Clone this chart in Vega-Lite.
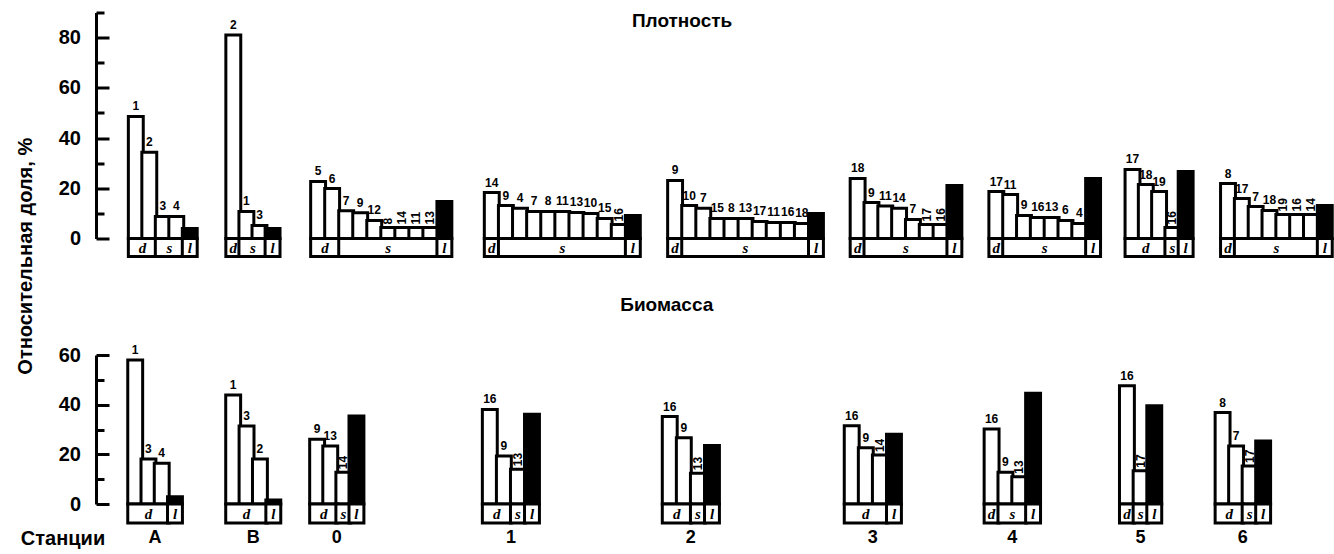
{
"$schema": "https://vega.github.io/schema/vega-lite/v6.json",
"background": "white",
"padding": {"left": 15, "top": 2.5, "right": 0, "bottom": 0},
"title": {"text": "Относительная доля, %", "orient": "left", "anchor": "middle", "frame": "bounds", "offset": -15.5, "dx": 19, "fontSize": 20, "font": "Liberation Sans", "fontWeight": "bold", "color": "black"},
"datasets": {"bars": [
{"m":"Плотность","st":"A","sp":"1","cat":"d","rank":1,"v":48.6},
{"m":"Плотность","st":"A","sp":"2","cat":"d","rank":2,"v":34.3},
{"m":"Плотность","st":"A","sp":"3","cat":"s","rank":3,"v":8.8},
{"m":"Плотность","st":"A","sp":"4","cat":"s","rank":4,"v":8.8},
{"m":"Плотность","st":"A","sp":"","cat":"l","rank":5,"v":4.0},
{"m":"Плотность","st":"B","sp":"2","cat":"d","rank":1,"v":81},
{"m":"Плотность","st":"B","sp":"1","cat":"s","rank":2,"v":10.8},
{"m":"Плотность","st":"B","sp":"3","cat":"s","rank":3,"v":5.2},
{"m":"Плотность","st":"B","sp":"","cat":"l","rank":4,"v":4.0},
{"m":"Плотность","st":"0","sp":"5","cat":"d","rank":1,"v":22.7},
{"m":"Плотность","st":"0","sp":"6","cat":"d","rank":2,"v":19.9},
{"m":"Плотность","st":"0","sp":"7","cat":"s","rank":3,"v":11.1},
{"m":"Плотность","st":"0","sp":"9","cat":"s","rank":4,"v":10.3},
{"m":"Плотность","st":"0","sp":"12","cat":"s","rank":5,"v":7.2},
{"m":"Плотность","st":"0","sp":"8","cat":"s","rank":6,"v":4.4},
{"m":"Плотность","st":"0","sp":"14","cat":"s","rank":7,"v":4.4},
{"m":"Плотность","st":"0","sp":"11","cat":"s","rank":8,"v":4.4},
{"m":"Плотность","st":"0","sp":"13","cat":"s","rank":9,"v":4.4},
{"m":"Плотность","st":"0","sp":"","cat":"l","rank":10,"v":14.7},
{"m":"Плотность","st":"1","sp":"14","cat":"d","rank":1,"v":18.3},
{"m":"Плотность","st":"1","sp":"9","cat":"s","rank":2,"v":13.1},
{"m":"Плотность","st":"1","sp":"4","cat":"s","rank":3,"v":12.0},
{"m":"Плотность","st":"1","sp":"7","cat":"s","rank":4,"v":10.8},
{"m":"Плотность","st":"1","sp":"8","cat":"s","rank":5,"v":10.8},
{"m":"Плотность","st":"1","sp":"11","cat":"s","rank":6,"v":10.8},
{"m":"Плотность","st":"1","sp":"13","cat":"s","rank":7,"v":10.4},
{"m":"Плотность","st":"1","sp":"10","cat":"s","rank":8,"v":10.0},
{"m":"Плотность","st":"1","sp":"15","cat":"s","rank":9,"v":8.0},
{"m":"Плотность","st":"1","sp":"16","cat":"s","rank":10,"v":5.6},
{"m":"Плотность","st":"1","sp":"","cat":"l","rank":11,"v":9.2},
{"m":"Плотность","st":"2","sp":"9","cat":"d","rank":1,"v":23.1},
{"m":"Плотность","st":"2","sp":"10","cat":"s","rank":2,"v":13.1},
{"m":"Плотность","st":"2","sp":"7","cat":"s","rank":3,"v":12.0},
{"m":"Плотность","st":"2","sp":"15","cat":"s","rank":4,"v":8.0},
{"m":"Плотность","st":"2","sp":"8","cat":"s","rank":5,"v":8.0},
{"m":"Плотность","st":"2","sp":"13","cat":"s","rank":6,"v":8.0},
{"m":"Плотность","st":"2","sp":"17","cat":"s","rank":7,"v":6.8},
{"m":"Плотность","st":"2","sp":"11","cat":"s","rank":8,"v":6.4},
{"m":"Плотность","st":"2","sp":"16","cat":"s","rank":9,"v":6.4},
{"m":"Плотность","st":"2","sp":"18","cat":"s","rank":10,"v":6.0},
{"m":"Плотность","st":"2","sp":"","cat":"l","rank":11,"v":10.0},
{"m":"Плотность","st":"3","sp":"18","cat":"d","rank":1,"v":23.9},
{"m":"Плотность","st":"3","sp":"9","cat":"s","rank":2,"v":14.3},
{"m":"Плотность","st":"3","sp":"11","cat":"s","rank":3,"v":12.9},
{"m":"Плотность","st":"3","sp":"14","cat":"s","rank":4,"v":12.0},
{"m":"Плотность","st":"3","sp":"7","cat":"s","rank":5,"v":7.6},
{"m":"Плотность","st":"3","sp":"17","cat":"s","rank":6,"v":5.6},
{"m":"Плотность","st":"3","sp":"16","cat":"s","rank":7,"v":5.6},
{"m":"Плотность","st":"3","sp":"","cat":"l","rank":8,"v":21.1},
{"m":"Плотность","st":"4","sp":"17","cat":"d","rank":1,"v":18.7},
{"m":"Плотность","st":"4","sp":"11","cat":"s","rank":2,"v":17.5},
{"m":"Плотность","st":"4","sp":"9","cat":"s","rank":3,"v":9.2},
{"m":"Плотность","st":"4","sp":"16","cat":"s","rank":4,"v":8.4},
{"m":"Плотность","st":"4","sp":"13","cat":"s","rank":5,"v":8.4},
{"m":"Плотность","st":"4","sp":"6","cat":"s","rank":6,"v":7.2},
{"m":"Плотность","st":"4","sp":"4","cat":"s","rank":7,"v":6.0},
{"m":"Плотность","st":"4","sp":"","cat":"l","rank":8,"v":23.9},
{"m":"Плотность","st":"5","sp":"17","cat":"d","rank":1,"v":27.5},
{"m":"Плотность","st":"5","sp":"18","cat":"d","rank":2,"v":21.5},
{"m":"Плотность","st":"5","sp":"19","cat":"d","rank":3,"v":18.7},
{"m":"Плотность","st":"5","sp":"16","cat":"s","rank":4,"v":4.4},
{"m":"Плотность","st":"5","sp":"","cat":"l","rank":5,"v":26.7},
{"m":"Плотность","st":"6","sp":"8","cat":"d","rank":1,"v":21.9},
{"m":"Плотность","st":"6","sp":"17","cat":"s","rank":2,"v":15.9},
{"m":"Плотность","st":"6","sp":"7","cat":"s","rank":3,"v":12.7},
{"m":"Плотность","st":"6","sp":"18","cat":"s","rank":4,"v":11.2},
{"m":"Плотность","st":"6","sp":"19","cat":"s","rank":5,"v":9.6},
{"m":"Плотность","st":"6","sp":"16","cat":"s","rank":6,"v":9.6},
{"m":"Плотность","st":"6","sp":"14","cat":"s","rank":7,"v":9.6},
{"m":"Плотность","st":"6","sp":"","cat":"l","rank":8,"v":13.1},
{"m":"Биомасса","st":"A","sp":"1","cat":"d","rank":1,"v":58.0},
{"m":"Биомасса","st":"A","sp":"3","cat":"d","rank":2,"v":18.1},
{"m":"Биомасса","st":"A","sp":"4","cat":"d","rank":3,"v":16.4},
{"m":"Биомасса","st":"A","sp":"","cat":"l","rank":4,"v":2.9},
{"m":"Биомасса","st":"B","sp":"1","cat":"d","rank":1,"v":43.9},
{"m":"Биомасса","st":"B","sp":"3","cat":"d","rank":2,"v":31.4},
{"m":"Биомасса","st":"B","sp":"2","cat":"d","rank":3,"v":18.1},
{"m":"Биомасса","st":"B","sp":"","cat":"l","rank":4,"v":1.6},
{"m":"Биомасса","st":"0","sp":"9","cat":"d","rank":1,"v":26.1},
{"m":"Биомасса","st":"0","sp":"13","cat":"d","rank":2,"v":23.4},
{"m":"Биомасса","st":"0","sp":"14","cat":"s","rank":3,"v":12.8},
{"m":"Биомасса","st":"0","sp":"","cat":"l","rank":4,"v":35.4},
{"m":"Биомасса","st":"1","sp":"16","cat":"d","rank":1,"v":38.1},
{"m":"Биомасса","st":"1","sp":"9","cat":"d","rank":2,"v":19.3},
{"m":"Биомасса","st":"1","sp":"13","cat":"s","rank":3,"v":14.0},
{"m":"Биомасса","st":"1","sp":"","cat":"l","rank":4,"v":36.1},
{"m":"Биомасса","st":"2","sp":"16","cat":"d","rank":1,"v":35.2},
{"m":"Биомасса","st":"2","sp":"9","cat":"d","rank":2,"v":26.7},
{"m":"Биомасса","st":"2","sp":"13","cat":"s","rank":3,"v":12.4},
{"m":"Биомасса","st":"2","sp":"","cat":"l","rank":4,"v":23.6},
{"m":"Биомасса","st":"3","sp":"16","cat":"d","rank":1,"v":31.5},
{"m":"Биомасса","st":"3","sp":"9","cat":"d","rank":2,"v":22.7},
{"m":"Биомасса","st":"3","sp":"14","cat":"d","rank":3,"v":19.7},
{"m":"Биомасса","st":"3","sp":"","cat":"l","rank":4,"v":28.1},
{"m":"Биомасса","st":"4","sp":"16","cat":"d","rank":1,"v":30.2},
{"m":"Биомасса","st":"4","sp":"9","cat":"s","rank":2,"v":12.8},
{"m":"Биомасса","st":"4","sp":"13","cat":"s","rank":3,"v":11.0},
{"m":"Биомасса","st":"4","sp":"","cat":"l","rank":4,"v":44.6},
{"m":"Биомасса","st":"5","sp":"16","cat":"d","rank":1,"v":47.6},
{"m":"Биомасса","st":"5","sp":"17","cat":"s","rank":2,"v":13.4},
{"m":"Биомасса","st":"5","sp":"","cat":"l","rank":3,"v":39.6},
{"m":"Биомасса","st":"6","sp":"8","cat":"d","rank":1,"v":36.8},
{"m":"Биомасса","st":"6","sp":"7","cat":"d","rank":2,"v":23.4},
{"m":"Биомасса","st":"6","sp":"17","cat":"s","rank":3,"v":15.3},
{"m":"Биомасса","st":"6","sp":"","cat":"l","rank":4,"v":25.4}
]},
"data": {"name": "bars"},
"spacing": 37.5,
"vconcat": [
{
"spacing": 0, "bounds": "flush",
"hconcat": [
{"width": 105.5, "height": 226,
 "transform": [{"filter": "datum.m == 'Плотность' && datum.st == 'A'"}],
 "encoding": {"x": {"field": "rank", "type": "quantitative", "scale": {"domain": [-1.5805, 5.5]}, "axis": null}},
 "layer": [
  {"mark": {"type": "bar", "orient": "vertical", "width": 14.9, "stroke": "black", "strokeWidth": 3}, "encoding": {"y": {"field": "v", "type": "quantitative", "stack": null, "scale": {"domain": [0, 90]}, "axis": {"values": [0,10,20,30,40,50,60,70,80,90], "labelExpr": "datum.value % 20 == 0 ? datum.label : ''", "tickSize": {"condition": {"test": "datum.value % 20 == 0", "value": -13}, "value": -8}, "labelPadding": 28.5, "title": null, "labelOverlap": false}}, "fill": {"condition": {"test": "datum.cat == 'l'", "value": "black"}, "value": "white"}}},
  {"transform": [{"filter": "datum.cat != 'l'"}], "mark": {"type": "text", "baseline": "bottom", "dy": -3}, "encoding": {"y": {"field": "v", "type": "quantitative", "scale": {"domain": [0, 90]}, "axis": {"values": [0,10,20,30,40,50,60,70,80,90], "labelExpr": "datum.value % 20 == 0 ? datum.label : ''", "tickSize": {"condition": {"test": "datum.value % 20 == 0", "value": -13}, "value": -8}, "labelPadding": 28.5, "title": null, "labelOverlap": false}}, "text": {"field": "sp"}}},
  {"transform": [{"aggregate": [{"op": "min", "field": "rank", "as": "r0"}, {"op": "max", "field": "rank", "as": "r1"}], "groupby": ["cat"]}], "mark": {"type": "rect", "xOffset": -7.45, "x2Offset": 7.45, "y2Offset": 18, "fill": "white", "stroke": "black", "strokeWidth": 3}, "encoding": {"x": {"field": "r0"}, "x2": {"field": "r1"}, "y": {"datum": 0, "type": "quantitative", "scale": {"domain": [0, 90]}, "axis": {"values": [0,10,20,30,40,50,60,70,80,90], "labelExpr": "datum.value % 20 == 0 ? datum.label : ''", "tickSize": {"condition": {"test": "datum.value % 20 == 0", "value": -13}, "value": -8}, "labelPadding": 28.5, "title": null, "labelOverlap": false}}, "y2": {"datum": 0}}},
  {"transform": [{"aggregate": [{"op": "mean", "field": "rank", "as": "rm"}], "groupby": ["cat"]}], "mark": {"type": "text", "dy": 9.5, "baseline": "middle", "font": "Liberation Serif", "fontStyle": "italic", "fontSize": 15}, "encoding": {"x": {"field": "rm"}, "y": {"datum": 0, "type": "quantitative", "scale": {"domain": [0, 90]}, "axis": {"values": [0,10,20,30,40,50,60,70,80,90], "labelExpr": "datum.value % 20 == 0 ? datum.label : ''", "tickSize": {"condition": {"test": "datum.value % 20 == 0", "value": -13}, "value": -8}, "labelPadding": 28.5, "title": null, "labelOverlap": false}}, "text": {"field": "cat"}}}
 ]},
{"width": 82.1, "height": 226,
 "transform": [{"filter": "datum.m == 'Плотность' && datum.st == 'B'"}],
 "encoding": {"x": {"field": "rank", "type": "quantitative", "scale": {"domain": [-1.0101, 4.5]}, "axis": null}},
 "layer": [
  {"mark": {"type": "bar", "orient": "vertical", "width": 14.9, "stroke": "black", "strokeWidth": 3}, "encoding": {"y": {"field": "v", "type": "quantitative", "stack": null, "scale": {"domain": [0, 90]}, "axis": null}, "fill": {"condition": {"test": "datum.cat == 'l'", "value": "black"}, "value": "white"}}},
  {"transform": [{"filter": "datum.cat != 'l'"}], "mark": {"type": "text", "baseline": "bottom", "dy": -3}, "encoding": {"y": {"field": "v", "type": "quantitative", "scale": {"domain": [0, 90]}, "axis": null}, "text": {"field": "sp"}}},
  {"transform": [{"aggregate": [{"op": "min", "field": "rank", "as": "r0"}, {"op": "max", "field": "rank", "as": "r1"}], "groupby": ["cat"]}], "mark": {"type": "rect", "xOffset": -7.45, "x2Offset": 7.45, "y2Offset": 18, "fill": "white", "stroke": "black", "strokeWidth": 3}, "encoding": {"x": {"field": "r0"}, "x2": {"field": "r1"}, "y": {"datum": 0, "type": "quantitative", "scale": {"domain": [0, 90]}, "axis": null}, "y2": {"datum": 0}}},
  {"transform": [{"aggregate": [{"op": "mean", "field": "rank", "as": "rm"}], "groupby": ["cat"]}], "mark": {"type": "text", "dy": 9.5, "baseline": "middle", "font": "Liberation Serif", "fontStyle": "italic", "fontSize": 15}, "encoding": {"x": {"field": "rm"}, "y": {"datum": 0, "type": "quantitative", "scale": {"domain": [0, 90]}, "axis": null}, "text": {"field": "cat"}}}
 ]},
{"width": 171.4, "height": 226,
 "transform": [{"filter": "datum.m == 'Плотность' && datum.st == '0'"}],
 "encoding": {"x": {"field": "rank", "type": "quantitative", "scale": {"domain": [-1.0034, 10.5]}, "axis": null}},
 "layer": [
  {"mark": {"type": "bar", "orient": "vertical", "width": 14.9, "stroke": "black", "strokeWidth": 3}, "encoding": {"y": {"field": "v", "type": "quantitative", "stack": null, "scale": {"domain": [0, 90]}, "axis": null}, "fill": {"condition": {"test": "datum.cat == 'l'", "value": "black"}, "value": "white"}}},
  {"transform": [{"filter": "datum.cat != 'l' && indexof(['8','14','11','13'], datum.sp) < 0"}], "mark": {"type": "text", "baseline": "bottom", "dy": -3}, "encoding": {"y": {"field": "v", "type": "quantitative", "scale": {"domain": [0, 90]}, "axis": null}, "text": {"field": "sp"}}},
  {"transform": [{"filter": "indexof(['8','14','11','13'], datum.sp) >= 0"}], "mark": {"type": "text", "angle": 270, "align": "left", "baseline": "middle", "dx": 3}, "encoding": {"y": {"field": "v", "type": "quantitative", "scale": {"domain": [0, 90]}, "axis": null}, "text": {"field": "sp"}}},
  {"transform": [{"aggregate": [{"op": "min", "field": "rank", "as": "r0"}, {"op": "max", "field": "rank", "as": "r1"}], "groupby": ["cat"]}], "mark": {"type": "rect", "xOffset": -7.45, "x2Offset": 7.45, "y2Offset": 18, "fill": "white", "stroke": "black", "strokeWidth": 3}, "encoding": {"x": {"field": "r0"}, "x2": {"field": "r1"}, "y": {"datum": 0, "type": "quantitative", "scale": {"domain": [0, 90]}, "axis": null}, "y2": {"datum": 0}}},
  {"transform": [{"aggregate": [{"op": "mean", "field": "rank", "as": "rm"}], "groupby": ["cat"]}], "mark": {"type": "text", "dy": 9.5, "baseline": "middle", "font": "Liberation Serif", "fontStyle": "italic", "fontSize": 15}, "encoding": {"x": {"field": "rm"}, "y": {"datum": 0, "type": "quantitative", "scale": {"domain": [0, 90]}, "axis": null}, "text": {"field": "cat"}}}
 ]},
{"width": 187.9, "height": 226,
 "transform": [{"filter": "datum.m == 'Плотность' && datum.st == '1'"}],
 "encoding": {"x": {"field": "rank", "type": "quantitative", "scale": {"domain": [-1.1107, 11.5]}, "axis": null}},
 "layer": [
  {"mark": {"type": "bar", "orient": "vertical", "width": 14.9, "stroke": "black", "strokeWidth": 3}, "encoding": {"y": {"field": "v", "type": "quantitative", "stack": null, "scale": {"domain": [0, 90]}, "axis": null}, "fill": {"condition": {"test": "datum.cat == 'l'", "value": "black"}, "value": "white"}}},
  {"transform": [{"filter": "datum.cat != 'l' && indexof(['16'], datum.sp) < 0"}], "mark": {"type": "text", "baseline": "bottom", "dy": -3}, "encoding": {"y": {"field": "v", "type": "quantitative", "scale": {"domain": [0, 90]}, "axis": null}, "text": {"field": "sp"}}},
  {"transform": [{"filter": "indexof(['16'], datum.sp) >= 0"}], "mark": {"type": "text", "angle": 270, "align": "left", "baseline": "middle", "dx": 3}, "encoding": {"y": {"field": "v", "type": "quantitative", "scale": {"domain": [0, 90]}, "axis": null}, "text": {"field": "sp"}}},
  {"transform": [{"aggregate": [{"op": "min", "field": "rank", "as": "r0"}, {"op": "max", "field": "rank", "as": "r1"}], "groupby": ["cat"]}], "mark": {"type": "rect", "xOffset": -7.45, "x2Offset": 7.45, "y2Offset": 18, "fill": "white", "stroke": "black", "strokeWidth": 3}, "encoding": {"x": {"field": "r0"}, "x2": {"field": "r1"}, "y": {"datum": 0, "type": "quantitative", "scale": {"domain": [0, 90]}, "axis": null}, "y2": {"datum": 0}}},
  {"transform": [{"aggregate": [{"op": "mean", "field": "rank", "as": "rm"}], "groupby": ["cat"]}], "mark": {"type": "text", "dy": 9.5, "baseline": "middle", "font": "Liberation Serif", "fontStyle": "italic", "fontSize": 15}, "encoding": {"x": {"field": "rm"}, "y": {"datum": 0, "type": "quantitative", "scale": {"domain": [0, 90]}, "axis": null}, "text": {"field": "cat"}}}
 ]},
{"width": 183, "height": 226,
 "transform": [{"filter": "datum.m == 'Плотность' && datum.st == '2'"}],
 "encoding": {"x": {"field": "rank", "type": "quantitative", "scale": {"domain": [-0.7819, 11.5]}, "axis": null}},
 "layer": [
  {"mark": {"type": "bar", "orient": "vertical", "width": 14.9, "stroke": "black", "strokeWidth": 3}, "encoding": {"y": {"field": "v", "type": "quantitative", "stack": null, "scale": {"domain": [0, 90]}, "axis": null}, "fill": {"condition": {"test": "datum.cat == 'l'", "value": "black"}, "value": "white"}}},
  {"transform": [{"filter": "datum.cat != 'l'"}], "mark": {"type": "text", "baseline": "bottom", "dy": -3}, "encoding": {"y": {"field": "v", "type": "quantitative", "scale": {"domain": [0, 90]}, "axis": null}, "text": {"field": "sp"}}},
  {"transform": [{"aggregate": [{"op": "min", "field": "rank", "as": "r0"}, {"op": "max", "field": "rank", "as": "r1"}], "groupby": ["cat"]}], "mark": {"type": "rect", "xOffset": -7.45, "x2Offset": 7.45, "y2Offset": 18, "fill": "white", "stroke": "black", "strokeWidth": 3}, "encoding": {"x": {"field": "r0"}, "x2": {"field": "r1"}, "y": {"datum": 0, "type": "quantitative", "scale": {"domain": [0, 90]}, "axis": null}, "y2": {"datum": 0}}},
  {"transform": [{"aggregate": [{"op": "mean", "field": "rank", "as": "rm"}], "groupby": ["cat"]}], "mark": {"type": "text", "dy": 9.5, "baseline": "middle", "font": "Liberation Serif", "fontStyle": "italic", "fontSize": 15}, "encoding": {"x": {"field": "rm"}, "y": {"datum": 0, "type": "quantitative", "scale": {"domain": [0, 90]}, "axis": null}, "text": {"field": "cat"}}},
  {"transform": [{"aggregate": [{"op": "min", "field": "rank", "as": "rt"}], "groupby": ["m"]}], "mark": {"type": "text", "fontSize": 19, "baseline": "middle", "dx": 7, "dy": 8}, "encoding": {"x": {"field": "rt"}, "y": {"datum": 90, "type": "quantitative", "scale": {"domain": [0, 90]}, "axis": null}, "text": {"field": "m"}}}
 ]},
{"width": 138.3, "height": 226,
 "transform": [{"filter": "datum.m == 'Плотность' && datum.st == '3'"}],
 "encoding": {"x": {"field": "rank", "type": "quantitative", "scale": {"domain": [-0.7819, 8.5]}, "axis": null}},
 "layer": [
  {"mark": {"type": "bar", "orient": "vertical", "width": 14.9, "stroke": "black", "strokeWidth": 3}, "encoding": {"y": {"field": "v", "type": "quantitative", "stack": null, "scale": {"domain": [0, 90]}, "axis": null}, "fill": {"condition": {"test": "datum.cat == 'l'", "value": "black"}, "value": "white"}}},
  {"transform": [{"filter": "datum.cat != 'l' && indexof(['17','16'], datum.sp) < 0"}], "mark": {"type": "text", "baseline": "bottom", "dy": -3}, "encoding": {"y": {"field": "v", "type": "quantitative", "scale": {"domain": [0, 90]}, "axis": null}, "text": {"field": "sp"}}},
  {"transform": [{"filter": "indexof(['17','16'], datum.sp) >= 0"}], "mark": {"type": "text", "angle": 270, "align": "left", "baseline": "middle", "dx": 3}, "encoding": {"y": {"field": "v", "type": "quantitative", "scale": {"domain": [0, 90]}, "axis": null}, "text": {"field": "sp"}}},
  {"transform": [{"aggregate": [{"op": "min", "field": "rank", "as": "r0"}, {"op": "max", "field": "rank", "as": "r1"}], "groupby": ["cat"]}], "mark": {"type": "rect", "xOffset": -7.45, "x2Offset": 7.45, "y2Offset": 18, "fill": "white", "stroke": "black", "strokeWidth": 3}, "encoding": {"x": {"field": "r0"}, "x2": {"field": "r1"}, "y": {"datum": 0, "type": "quantitative", "scale": {"domain": [0, 90]}, "axis": null}, "y2": {"datum": 0}}},
  {"transform": [{"aggregate": [{"op": "mean", "field": "rank", "as": "rm"}], "groupby": ["cat"]}], "mark": {"type": "text", "dy": 9.5, "baseline": "middle", "font": "Liberation Serif", "fontStyle": "italic", "fontSize": 15}, "encoding": {"x": {"field": "rm"}, "y": {"datum": 0, "type": "quantitative", "scale": {"domain": [0, 90]}, "axis": null}, "text": {"field": "cat"}}}
 ]},
{"width": 138, "height": 226,
 "transform": [{"filter": "datum.m == 'Плотность' && datum.st == '4'"}],
 "encoding": {"x": {"field": "rank", "type": "quantitative", "scale": {"domain": [-0.7617, 8.5]}, "axis": null}},
 "layer": [
  {"mark": {"type": "bar", "orient": "vertical", "width": 14.9, "stroke": "black", "strokeWidth": 3}, "encoding": {"y": {"field": "v", "type": "quantitative", "stack": null, "scale": {"domain": [0, 90]}, "axis": null}, "fill": {"condition": {"test": "datum.cat == 'l'", "value": "black"}, "value": "white"}}},
  {"transform": [{"filter": "datum.cat != 'l'"}], "mark": {"type": "text", "baseline": "bottom", "dy": -3}, "encoding": {"y": {"field": "v", "type": "quantitative", "scale": {"domain": [0, 90]}, "axis": null}, "text": {"field": "sp"}}},
  {"transform": [{"aggregate": [{"op": "min", "field": "rank", "as": "r0"}, {"op": "max", "field": "rank", "as": "r1"}], "groupby": ["cat"]}], "mark": {"type": "rect", "xOffset": -7.45, "x2Offset": 7.45, "y2Offset": 18, "fill": "white", "stroke": "black", "strokeWidth": 3}, "encoding": {"x": {"field": "r0"}, "x2": {"field": "r1"}, "y": {"datum": 0, "type": "quantitative", "scale": {"domain": [0, 90]}, "axis": null}, "y2": {"datum": 0}}},
  {"transform": [{"aggregate": [{"op": "mean", "field": "rank", "as": "rm"}], "groupby": ["cat"]}], "mark": {"type": "text", "dy": 9.5, "baseline": "middle", "font": "Liberation Serif", "fontStyle": "italic", "fontSize": 15}, "encoding": {"x": {"field": "rm"}, "y": {"datum": 0, "type": "quantitative", "scale": {"domain": [0, 90]}, "axis": null}, "text": {"field": "cat"}}}
 ]},
{"width": 92.3, "height": 226,
 "transform": [{"filter": "datum.m == 'Плотность' && datum.st == '5'"}],
 "encoding": {"x": {"field": "rank", "type": "quantitative", "scale": {"domain": [-0.6946, 5.5]}, "axis": null}},
 "layer": [
  {"mark": {"type": "bar", "orient": "vertical", "width": 14.9, "stroke": "black", "strokeWidth": 3}, "encoding": {"y": {"field": "v", "type": "quantitative", "stack": null, "scale": {"domain": [0, 90]}, "axis": null}, "fill": {"condition": {"test": "datum.cat == 'l'", "value": "black"}, "value": "white"}}},
  {"transform": [{"filter": "datum.cat != 'l' && indexof(['16'], datum.sp) < 0"}], "mark": {"type": "text", "baseline": "bottom", "dy": -3}, "encoding": {"y": {"field": "v", "type": "quantitative", "scale": {"domain": [0, 90]}, "axis": null}, "text": {"field": "sp"}}},
  {"transform": [{"filter": "indexof(['16'], datum.sp) >= 0"}], "mark": {"type": "text", "angle": 270, "align": "left", "baseline": "middle", "dx": 3}, "encoding": {"y": {"field": "v", "type": "quantitative", "scale": {"domain": [0, 90]}, "axis": null}, "text": {"field": "sp"}}},
  {"transform": [{"aggregate": [{"op": "min", "field": "rank", "as": "r0"}, {"op": "max", "field": "rank", "as": "r1"}], "groupby": ["cat"]}], "mark": {"type": "rect", "xOffset": -7.45, "x2Offset": 7.45, "y2Offset": 18, "fill": "white", "stroke": "black", "strokeWidth": 3}, "encoding": {"x": {"field": "r0"}, "x2": {"field": "r1"}, "y": {"datum": 0, "type": "quantitative", "scale": {"domain": [0, 90]}, "axis": null}, "y2": {"datum": 0}}},
  {"transform": [{"aggregate": [{"op": "mean", "field": "rank", "as": "rm"}], "groupby": ["cat"]}], "mark": {"type": "text", "dy": 9.5, "baseline": "middle", "font": "Liberation Serif", "fontStyle": "italic", "fontSize": 15}, "encoding": {"x": {"field": "rm"}, "y": {"datum": 0, "type": "quantitative", "scale": {"domain": [0, 90]}, "axis": null}, "text": {"field": "cat"}}}
 ]},
{"width": 138.7, "height": 226,
 "transform": [{"filter": "datum.m == 'Плотность' && datum.st == '6'"}],
 "encoding": {"x": {"field": "rank", "type": "quantitative", "scale": {"domain": [-0.8087, 8.5]}, "axis": null}},
 "layer": [
  {"mark": {"type": "bar", "orient": "vertical", "width": 14.9, "stroke": "black", "strokeWidth": 3}, "encoding": {"y": {"field": "v", "type": "quantitative", "stack": null, "scale": {"domain": [0, 90]}, "axis": null}, "fill": {"condition": {"test": "datum.cat == 'l'", "value": "black"}, "value": "white"}}},
  {"transform": [{"filter": "datum.cat != 'l' && indexof(['19','16','14'], datum.sp) < 0"}], "mark": {"type": "text", "baseline": "bottom", "dy": -3}, "encoding": {"y": {"field": "v", "type": "quantitative", "scale": {"domain": [0, 90]}, "axis": null}, "text": {"field": "sp"}}},
  {"transform": [{"filter": "indexof(['19','16','14'], datum.sp) >= 0"}], "mark": {"type": "text", "angle": 270, "align": "left", "baseline": "middle", "dx": 3}, "encoding": {"y": {"field": "v", "type": "quantitative", "scale": {"domain": [0, 90]}, "axis": null}, "text": {"field": "sp"}}},
  {"transform": [{"aggregate": [{"op": "min", "field": "rank", "as": "r0"}, {"op": "max", "field": "rank", "as": "r1"}], "groupby": ["cat"]}], "mark": {"type": "rect", "xOffset": -7.45, "x2Offset": 7.45, "y2Offset": 18, "fill": "white", "stroke": "black", "strokeWidth": 3}, "encoding": {"x": {"field": "r0"}, "x2": {"field": "r1"}, "y": {"datum": 0, "type": "quantitative", "scale": {"domain": [0, 90]}, "axis": null}, "y2": {"datum": 0}}},
  {"transform": [{"aggregate": [{"op": "mean", "field": "rank", "as": "rm"}], "groupby": ["cat"]}], "mark": {"type": "text", "dy": 9.5, "baseline": "middle", "font": "Liberation Serif", "fontStyle": "italic", "fontSize": 15}, "encoding": {"x": {"field": "rm"}, "y": {"datum": 0, "type": "quantitative", "scale": {"domain": [0, 90]}, "axis": null}, "text": {"field": "cat"}}}
 ]}
]
},
{
"spacing": 0, "bounds": "flush",
"hconcat": [
{"width": 90.6, "height": 149,
 "transform": [{"filter": "datum.m == 'Биомасса' && datum.st == 'A'"}],
 "encoding": {"x": {"field": "rank", "type": "quantitative", "scale": {"domain": [-1.5805, 4.5]},
   "axis": {"title": "Станции", "labels": false, "ticks": false, "domain": false, "titleX": -33.5, "titleY": 34, "titleAlign": "center", "titleBaseline": "middle", "titleAngle": 0, "titleFontSize": 20}}},
 "layer": [
  {"mark": {"type": "bar", "orient": "vertical", "width": 14.9, "stroke": "black", "strokeWidth": 3}, "encoding": {"y": {"field": "v", "type": "quantitative", "stack": null, "scale": {"domain": [0, 60]}, "axis": {"values": [0,10,20,30,40,50,60], "labelExpr": "datum.value % 20 == 0 ? datum.label : ''", "tickSize": {"condition": {"test": "datum.value % 20 == 0", "value": -13}, "value": -8}, "labelPadding": 28.5, "title": null, "labelOverlap": false}}, "fill": {"condition": {"test": "datum.cat == 'l'", "value": "black"}, "value": "white"}}},
  {"transform": [{"filter": "datum.cat != 'l'"}], "mark": {"type": "text", "baseline": "bottom", "dy": -3}, "encoding": {"y": {"field": "v", "type": "quantitative", "scale": {"domain": [0, 60]}, "axis": {"values": [0,10,20,30,40,50,60], "labelExpr": "datum.value % 20 == 0 ? datum.label : ''", "tickSize": {"condition": {"test": "datum.value % 20 == 0", "value": -13}, "value": -8}, "labelPadding": 28.5, "title": null, "labelOverlap": false}}, "text": {"field": "sp"}}},
  {"transform": [{"aggregate": [{"op": "min", "field": "rank", "as": "r0"}, {"op": "max", "field": "rank", "as": "r1"}], "groupby": ["cat"]}], "mark": {"type": "rect", "xOffset": -7.45, "x2Offset": 7.45, "y2Offset": 19, "fill": "white", "stroke": "black", "strokeWidth": 3}, "encoding": {"x": {"field": "r0"}, "x2": {"field": "r1"}, "y": {"datum": 0, "type": "quantitative", "scale": {"domain": [0, 60]}, "axis": {"values": [0,10,20,30,40,50,60], "labelExpr": "datum.value % 20 == 0 ? datum.label : ''", "tickSize": {"condition": {"test": "datum.value % 20 == 0", "value": -13}, "value": -8}, "labelPadding": 28.5, "title": null, "labelOverlap": false}}, "y2": {"datum": 0}}},
  {"transform": [{"aggregate": [{"op": "mean", "field": "rank", "as": "rm"}], "groupby": ["cat"]}], "mark": {"type": "text", "dy": 10, "baseline": "middle", "font": "Liberation Serif", "fontStyle": "italic", "fontSize": 15}, "encoding": {"x": {"field": "rm"}, "y": {"datum": 0, "type": "quantitative", "scale": {"domain": [0, 60]}, "axis": {"values": [0,10,20,30,40,50,60], "labelExpr": "datum.value % 20 == 0 ? datum.label : ''", "tickSize": {"condition": {"test": "datum.value % 20 == 0", "value": -13}, "value": -8}, "labelPadding": 28.5, "title": null, "labelOverlap": false}}, "text": {"field": "cat"}}},
  {"transform": [{"aggregate": [{"op": "mean", "field": "rank", "as": "rs"}], "groupby": ["st"]}], "mark": {"type": "text", "dy": 34, "baseline": "middle", "fontSize": 18}, "encoding": {"x": {"field": "rs"}, "y": {"datum": 0, "type": "quantitative", "scale": {"domain": [0, 60]}, "axis": {"values": [0,10,20,30,40,50,60], "labelExpr": "datum.value % 20 == 0 ? datum.label : ''", "tickSize": {"condition": {"test": "datum.value % 20 == 0", "value": -13}, "value": -8}, "labelPadding": 28.5, "title": null, "labelOverlap": false}}, "text": {"field": "st"}}}
 ]},
{"width": 98, "height": 149,
 "transform": [{"filter": "datum.m == 'Биомасса' && datum.st == 'B'"}],
 "encoding": {"x": {"field": "rank", "type": "quantitative", "scale": {"domain": [-2.0772, 4.5]}, "axis": null}},
 "layer": [
  {"mark": {"type": "bar", "orient": "vertical", "width": 14.9, "stroke": "black", "strokeWidth": 3}, "encoding": {"y": {"field": "v", "type": "quantitative", "stack": null, "scale": {"domain": [0, 60]}, "axis": null}, "fill": {"condition": {"test": "datum.cat == 'l'", "value": "black"}, "value": "white"}}},
  {"transform": [{"filter": "datum.cat != 'l'"}], "mark": {"type": "text", "baseline": "bottom", "dy": -3}, "encoding": {"y": {"field": "v", "type": "quantitative", "scale": {"domain": [0, 60]}, "axis": null}, "text": {"field": "sp"}}},
  {"transform": [{"aggregate": [{"op": "min", "field": "rank", "as": "r0"}, {"op": "max", "field": "rank", "as": "r1"}], "groupby": ["cat"]}], "mark": {"type": "rect", "xOffset": -7.45, "x2Offset": 7.45, "y2Offset": 19, "fill": "white", "stroke": "black", "strokeWidth": 3}, "encoding": {"x": {"field": "r0"}, "x2": {"field": "r1"}, "y": {"datum": 0, "type": "quantitative", "scale": {"domain": [0, 60]}, "axis": null}, "y2": {"datum": 0}}},
  {"transform": [{"aggregate": [{"op": "mean", "field": "rank", "as": "rm"}], "groupby": ["cat"]}], "mark": {"type": "text", "dy": 10, "baseline": "middle", "font": "Liberation Serif", "fontStyle": "italic", "fontSize": 15}, "encoding": {"x": {"field": "rm"}, "y": {"datum": 0, "type": "quantitative", "scale": {"domain": [0, 60]}, "axis": null}, "text": {"field": "cat"}}},
  {"transform": [{"aggregate": [{"op": "mean", "field": "rank", "as": "rs"}], "groupby": ["st"]}], "mark": {"type": "text", "dy": 34, "baseline": "middle", "fontSize": 18}, "encoding": {"x": {"field": "rs"}, "y": {"datum": 0, "type": "quantitative", "scale": {"domain": [0, 60]}, "axis": null}, "text": {"field": "st"}}}
 ]},
{"width": 83, "height": 149,
 "transform": [{"filter": "datum.m == 'Биомасса' && datum.st == '0'"}],
 "encoding": {"x": {"field": "rank", "type": "quantitative", "scale": {"domain": [-1.0705, 4.5]}, "axis": null}},
 "layer": [
  {"mark": {"type": "bar", "orient": "vertical", "width": 14.9, "stroke": "black", "strokeWidth": 3}, "encoding": {"y": {"field": "v", "type": "quantitative", "stack": null, "scale": {"domain": [0, 60]}, "axis": null}, "fill": {"condition": {"test": "datum.cat == 'l'", "value": "black"}, "value": "white"}}},
  {"transform": [{"filter": "datum.cat != 'l' && indexof(['14'], datum.sp) < 0"}], "mark": {"type": "text", "baseline": "bottom", "dy": -3}, "encoding": {"y": {"field": "v", "type": "quantitative", "scale": {"domain": [0, 60]}, "axis": null}, "text": {"field": "sp"}}},
  {"transform": [{"filter": "indexof(['14'], datum.sp) >= 0"}], "mark": {"type": "text", "angle": 270, "align": "left", "baseline": "middle", "dx": 3}, "encoding": {"y": {"field": "v", "type": "quantitative", "scale": {"domain": [0, 60]}, "axis": null}, "text": {"field": "sp"}}},
  {"transform": [{"aggregate": [{"op": "min", "field": "rank", "as": "r0"}, {"op": "max", "field": "rank", "as": "r1"}], "groupby": ["cat"]}], "mark": {"type": "rect", "xOffset": -7.45, "x2Offset": 7.45, "y2Offset": 19, "fill": "white", "stroke": "black", "strokeWidth": 3}, "encoding": {"x": {"field": "r0"}, "x2": {"field": "r1"}, "y": {"datum": 0, "type": "quantitative", "scale": {"domain": [0, 60]}, "axis": null}, "y2": {"datum": 0}}},
  {"transform": [{"aggregate": [{"op": "mean", "field": "rank", "as": "rm"}], "groupby": ["cat"]}], "mark": {"type": "text", "dy": 10, "baseline": "middle", "font": "Liberation Serif", "fontStyle": "italic", "fontSize": 15}, "encoding": {"x": {"field": "rm"}, "y": {"datum": 0, "type": "quantitative", "scale": {"domain": [0, 60]}, "axis": null}, "text": {"field": "cat"}}},
  {"transform": [{"aggregate": [{"op": "mean", "field": "rank", "as": "rs"}], "groupby": ["st"]}], "mark": {"type": "text", "dy": 34, "baseline": "middle", "fontSize": 18}, "encoding": {"x": {"field": "rs"}, "y": {"datum": 0, "type": "quantitative", "scale": {"domain": [0, 60]}, "axis": null}, "text": {"field": "st"}}}
 ]},
{"width": 176, "height": 149,
 "transform": [{"filter": "datum.m == 'Биомасса' && datum.st == '1'"}],
 "encoding": {"x": {"field": "rank", "type": "quantitative", "scale": {"domain": [-7.3121, 4.5]}, "axis": null}},
 "layer": [
  {"mark": {"type": "bar", "orient": "vertical", "width": 14.9, "stroke": "black", "strokeWidth": 3}, "encoding": {"y": {"field": "v", "type": "quantitative", "stack": null, "scale": {"domain": [0, 60]}, "axis": null}, "fill": {"condition": {"test": "datum.cat == 'l'", "value": "black"}, "value": "white"}}},
  {"transform": [{"filter": "datum.cat != 'l' && indexof(['13'], datum.sp) < 0"}], "mark": {"type": "text", "baseline": "bottom", "dy": -3}, "encoding": {"y": {"field": "v", "type": "quantitative", "scale": {"domain": [0, 60]}, "axis": null}, "text": {"field": "sp"}}},
  {"transform": [{"filter": "indexof(['13'], datum.sp) >= 0"}], "mark": {"type": "text", "angle": 270, "align": "left", "baseline": "middle", "dx": 3}, "encoding": {"y": {"field": "v", "type": "quantitative", "scale": {"domain": [0, 60]}, "axis": null}, "text": {"field": "sp"}}},
  {"transform": [{"aggregate": [{"op": "min", "field": "rank", "as": "r0"}, {"op": "max", "field": "rank", "as": "r1"}], "groupby": ["cat"]}], "mark": {"type": "rect", "xOffset": -7.45, "x2Offset": 7.45, "y2Offset": 19, "fill": "white", "stroke": "black", "strokeWidth": 3}, "encoding": {"x": {"field": "r0"}, "x2": {"field": "r1"}, "y": {"datum": 0, "type": "quantitative", "scale": {"domain": [0, 60]}, "axis": null}, "y2": {"datum": 0}}},
  {"transform": [{"aggregate": [{"op": "mean", "field": "rank", "as": "rm"}], "groupby": ["cat"]}], "mark": {"type": "text", "dy": 10, "baseline": "middle", "font": "Liberation Serif", "fontStyle": "italic", "fontSize": 15}, "encoding": {"x": {"field": "rm"}, "y": {"datum": 0, "type": "quantitative", "scale": {"domain": [0, 60]}, "axis": null}, "text": {"field": "cat"}}},
  {"transform": [{"aggregate": [{"op": "mean", "field": "rank", "as": "rs"}], "groupby": ["st"]}], "mark": {"type": "text", "dy": 34, "baseline": "middle", "fontSize": 18}, "encoding": {"x": {"field": "rs"}, "y": {"datum": 0, "type": "quantitative", "scale": {"domain": [0, 60]}, "axis": null}, "text": {"field": "st"}}}
 ]},
{"width": 180, "height": 149,
 "transform": [{"filter": "datum.m == 'Биомасса' && datum.st == '2'"}],
 "encoding": {"x": {"field": "rank", "type": "quantitative", "scale": {"domain": [-7.5805, 4.5]}, "axis": null}},
 "layer": [
  {"mark": {"type": "bar", "orient": "vertical", "width": 14.9, "stroke": "black", "strokeWidth": 3}, "encoding": {"y": {"field": "v", "type": "quantitative", "stack": null, "scale": {"domain": [0, 60]}, "axis": null}, "fill": {"condition": {"test": "datum.cat == 'l'", "value": "black"}, "value": "white"}}},
  {"transform": [{"filter": "datum.cat != 'l' && indexof(['13'], datum.sp) < 0"}], "mark": {"type": "text", "baseline": "bottom", "dy": -3}, "encoding": {"y": {"field": "v", "type": "quantitative", "scale": {"domain": [0, 60]}, "axis": null}, "text": {"field": "sp"}}},
  {"transform": [{"filter": "indexof(['13'], datum.sp) >= 0"}], "mark": {"type": "text", "angle": 270, "align": "left", "baseline": "middle", "dx": 3}, "encoding": {"y": {"field": "v", "type": "quantitative", "scale": {"domain": [0, 60]}, "axis": null}, "text": {"field": "sp"}}},
  {"transform": [{"aggregate": [{"op": "min", "field": "rank", "as": "r0"}, {"op": "max", "field": "rank", "as": "r1"}], "groupby": ["cat"]}], "mark": {"type": "rect", "xOffset": -7.45, "x2Offset": 7.45, "y2Offset": 19, "fill": "white", "stroke": "black", "strokeWidth": 3}, "encoding": {"x": {"field": "r0"}, "x2": {"field": "r1"}, "y": {"datum": 0, "type": "quantitative", "scale": {"domain": [0, 60]}, "axis": null}, "y2": {"datum": 0}}},
  {"transform": [{"aggregate": [{"op": "mean", "field": "rank", "as": "rm"}], "groupby": ["cat"]}], "mark": {"type": "text", "dy": 10, "baseline": "middle", "font": "Liberation Serif", "fontStyle": "italic", "fontSize": 15}, "encoding": {"x": {"field": "rm"}, "y": {"datum": 0, "type": "quantitative", "scale": {"domain": [0, 60]}, "axis": null}, "text": {"field": "cat"}}},
  {"transform": [{"aggregate": [{"op": "mean", "field": "rank", "as": "rs"}], "groupby": ["st"]}], "mark": {"type": "text", "dy": 34, "baseline": "middle", "fontSize": 18}, "encoding": {"x": {"field": "rs"}, "y": {"datum": 0, "type": "quantitative", "scale": {"domain": [0, 60]}, "axis": null}, "text": {"field": "st"}}},
  {"transform": [{"aggregate": [{"op": "min", "field": "rank", "as": "rt"}], "groupby": ["m"]}], "mark": {"type": "text", "fontSize": 19, "baseline": "middle", "dx": -3, "dy": -50}, "encoding": {"x": {"field": "rt"}, "y": {"datum": 60, "type": "quantitative", "scale": {"domain": [0, 60]}, "axis": null}, "text": {"field": "m"}}}
 ]},
{"width": 182, "height": 149,
 "transform": [{"filter": "datum.m == 'Биомасса' && datum.st == '3'"}],
 "encoding": {"x": {"field": "rank", "type": "quantitative", "scale": {"domain": [-7.7148, 4.5]}, "axis": null}},
 "layer": [
  {"mark": {"type": "bar", "orient": "vertical", "width": 14.9, "stroke": "black", "strokeWidth": 3}, "encoding": {"y": {"field": "v", "type": "quantitative", "stack": null, "scale": {"domain": [0, 60]}, "axis": null}, "fill": {"condition": {"test": "datum.cat == 'l'", "value": "black"}, "value": "white"}}},
  {"transform": [{"filter": "datum.cat != 'l' && indexof(['14'], datum.sp) < 0"}], "mark": {"type": "text", "baseline": "bottom", "dy": -3}, "encoding": {"y": {"field": "v", "type": "quantitative", "scale": {"domain": [0, 60]}, "axis": null}, "text": {"field": "sp"}}},
  {"transform": [{"filter": "indexof(['14'], datum.sp) >= 0"}], "mark": {"type": "text", "angle": 270, "align": "left", "baseline": "middle", "dx": 3}, "encoding": {"y": {"field": "v", "type": "quantitative", "scale": {"domain": [0, 60]}, "axis": null}, "text": {"field": "sp"}}},
  {"transform": [{"aggregate": [{"op": "min", "field": "rank", "as": "r0"}, {"op": "max", "field": "rank", "as": "r1"}], "groupby": ["cat"]}], "mark": {"type": "rect", "xOffset": -7.45, "x2Offset": 7.45, "y2Offset": 19, "fill": "white", "stroke": "black", "strokeWidth": 3}, "encoding": {"x": {"field": "r0"}, "x2": {"field": "r1"}, "y": {"datum": 0, "type": "quantitative", "scale": {"domain": [0, 60]}, "axis": null}, "y2": {"datum": 0}}},
  {"transform": [{"aggregate": [{"op": "mean", "field": "rank", "as": "rm"}], "groupby": ["cat"]}], "mark": {"type": "text", "dy": 10, "baseline": "middle", "font": "Liberation Serif", "fontStyle": "italic", "fontSize": 15}, "encoding": {"x": {"field": "rm"}, "y": {"datum": 0, "type": "quantitative", "scale": {"domain": [0, 60]}, "axis": null}, "text": {"field": "cat"}}},
  {"transform": [{"aggregate": [{"op": "mean", "field": "rank", "as": "rs"}], "groupby": ["st"]}], "mark": {"type": "text", "dy": 34, "baseline": "middle", "fontSize": 18}, "encoding": {"x": {"field": "rs"}, "y": {"datum": 0, "type": "quantitative", "scale": {"domain": [0, 60]}, "axis": null}, "text": {"field": "st"}}}
 ]},
{"width": 139, "height": 149,
 "transform": [{"filter": "datum.m == 'Биомасса' && datum.st == '4'"}],
 "encoding": {"x": {"field": "rank", "type": "quantitative", "scale": {"domain": [-4.8289, 4.5]}, "axis": null}},
 "layer": [
  {"mark": {"type": "bar", "orient": "vertical", "width": 14.9, "stroke": "black", "strokeWidth": 3}, "encoding": {"y": {"field": "v", "type": "quantitative", "stack": null, "scale": {"domain": [0, 60]}, "axis": null}, "fill": {"condition": {"test": "datum.cat == 'l'", "value": "black"}, "value": "white"}}},
  {"transform": [{"filter": "datum.cat != 'l' && indexof(['13'], datum.sp) < 0"}], "mark": {"type": "text", "baseline": "bottom", "dy": -3}, "encoding": {"y": {"field": "v", "type": "quantitative", "scale": {"domain": [0, 60]}, "axis": null}, "text": {"field": "sp"}}},
  {"transform": [{"filter": "indexof(['13'], datum.sp) >= 0"}], "mark": {"type": "text", "angle": 270, "align": "left", "baseline": "middle", "dx": 3}, "encoding": {"y": {"field": "v", "type": "quantitative", "scale": {"domain": [0, 60]}, "axis": null}, "text": {"field": "sp"}}},
  {"transform": [{"aggregate": [{"op": "min", "field": "rank", "as": "r0"}, {"op": "max", "field": "rank", "as": "r1"}], "groupby": ["cat"]}], "mark": {"type": "rect", "xOffset": -7.45, "x2Offset": 7.45, "y2Offset": 19, "fill": "white", "stroke": "black", "strokeWidth": 3}, "encoding": {"x": {"field": "r0"}, "x2": {"field": "r1"}, "y": {"datum": 0, "type": "quantitative", "scale": {"domain": [0, 60]}, "axis": null}, "y2": {"datum": 0}}},
  {"transform": [{"aggregate": [{"op": "mean", "field": "rank", "as": "rm"}], "groupby": ["cat"]}], "mark": {"type": "text", "dy": 10, "baseline": "middle", "font": "Liberation Serif", "fontStyle": "italic", "fontSize": 15}, "encoding": {"x": {"field": "rm"}, "y": {"datum": 0, "type": "quantitative", "scale": {"domain": [0, 60]}, "axis": null}, "text": {"field": "cat"}}},
  {"transform": [{"aggregate": [{"op": "mean", "field": "rank", "as": "rs"}], "groupby": ["st"]}], "mark": {"type": "text", "dy": 34, "baseline": "middle", "fontSize": 18}, "encoding": {"x": {"field": "rs"}, "y": {"datum": 0, "type": "quantitative", "scale": {"domain": [0, 60]}, "axis": null}, "text": {"field": "st"}}}
 ]},
{"width": 121.1, "height": 149,
 "transform": [{"filter": "datum.m == 'Биомасса' && datum.st == '5'"}],
 "encoding": {"x": {"field": "rank", "type": "quantitative", "scale": {"domain": [-4.6275, 3.5]}, "axis": null}},
 "layer": [
  {"mark": {"type": "bar", "orient": "vertical", "width": 14.9, "stroke": "black", "strokeWidth": 3}, "encoding": {"y": {"field": "v", "type": "quantitative", "stack": null, "scale": {"domain": [0, 60]}, "axis": null}, "fill": {"condition": {"test": "datum.cat == 'l'", "value": "black"}, "value": "white"}}},
  {"transform": [{"filter": "datum.cat != 'l' && indexof(['17'], datum.sp) < 0"}], "mark": {"type": "text", "baseline": "bottom", "dy": -3}, "encoding": {"y": {"field": "v", "type": "quantitative", "scale": {"domain": [0, 60]}, "axis": null}, "text": {"field": "sp"}}},
  {"transform": [{"filter": "indexof(['17'], datum.sp) >= 0"}], "mark": {"type": "text", "angle": 270, "align": "left", "baseline": "middle", "dx": 3}, "encoding": {"y": {"field": "v", "type": "quantitative", "scale": {"domain": [0, 60]}, "axis": null}, "text": {"field": "sp"}}},
  {"transform": [{"aggregate": [{"op": "min", "field": "rank", "as": "r0"}, {"op": "max", "field": "rank", "as": "r1"}], "groupby": ["cat"]}], "mark": {"type": "rect", "xOffset": -7.45, "x2Offset": 7.45, "y2Offset": 19, "fill": "white", "stroke": "black", "strokeWidth": 3}, "encoding": {"x": {"field": "r0"}, "x2": {"field": "r1"}, "y": {"datum": 0, "type": "quantitative", "scale": {"domain": [0, 60]}, "axis": null}, "y2": {"datum": 0}}},
  {"transform": [{"aggregate": [{"op": "mean", "field": "rank", "as": "rm"}], "groupby": ["cat"]}], "mark": {"type": "text", "dy": 10, "baseline": "middle", "font": "Liberation Serif", "fontStyle": "italic", "fontSize": 15}, "encoding": {"x": {"field": "rm"}, "y": {"datum": 0, "type": "quantitative", "scale": {"domain": [0, 60]}, "axis": null}, "text": {"field": "cat"}}},
  {"transform": [{"aggregate": [{"op": "mean", "field": "rank", "as": "rs"}], "groupby": ["st"]}], "mark": {"type": "text", "dy": 34, "baseline": "middle", "fontSize": 18}, "encoding": {"x": {"field": "rs"}, "y": {"datum": 0, "type": "quantitative", "scale": {"domain": [0, 60]}, "axis": null}, "text": {"field": "st"}}}
 ]},
{"width": 107.9, "height": 149,
 "transform": [{"filter": "datum.m == 'Биомасса' && datum.st == '6'"}],
 "encoding": {"x": {"field": "rank", "type": "quantitative", "scale": {"domain": [-2.7416, 4.5]}, "axis": null}},
 "layer": [
  {"mark": {"type": "bar", "orient": "vertical", "width": 14.9, "stroke": "black", "strokeWidth": 3}, "encoding": {"y": {"field": "v", "type": "quantitative", "stack": null, "scale": {"domain": [0, 60]}, "axis": null}, "fill": {"condition": {"test": "datum.cat == 'l'", "value": "black"}, "value": "white"}}},
  {"transform": [{"filter": "datum.cat != 'l' && indexof(['17'], datum.sp) < 0"}], "mark": {"type": "text", "baseline": "bottom", "dy": -3}, "encoding": {"y": {"field": "v", "type": "quantitative", "scale": {"domain": [0, 60]}, "axis": null}, "text": {"field": "sp"}}},
  {"transform": [{"filter": "indexof(['17'], datum.sp) >= 0"}], "mark": {"type": "text", "angle": 270, "align": "left", "baseline": "middle", "dx": 3}, "encoding": {"y": {"field": "v", "type": "quantitative", "scale": {"domain": [0, 60]}, "axis": null}, "text": {"field": "sp"}}},
  {"transform": [{"aggregate": [{"op": "min", "field": "rank", "as": "r0"}, {"op": "max", "field": "rank", "as": "r1"}], "groupby": ["cat"]}], "mark": {"type": "rect", "xOffset": -7.45, "x2Offset": 7.45, "y2Offset": 19, "fill": "white", "stroke": "black", "strokeWidth": 3}, "encoding": {"x": {"field": "r0"}, "x2": {"field": "r1"}, "y": {"datum": 0, "type": "quantitative", "scale": {"domain": [0, 60]}, "axis": null}, "y2": {"datum": 0}}},
  {"transform": [{"aggregate": [{"op": "mean", "field": "rank", "as": "rm"}], "groupby": ["cat"]}], "mark": {"type": "text", "dy": 10, "baseline": "middle", "font": "Liberation Serif", "fontStyle": "italic", "fontSize": 15}, "encoding": {"x": {"field": "rm"}, "y": {"datum": 0, "type": "quantitative", "scale": {"domain": [0, 60]}, "axis": null}, "text": {"field": "cat"}}},
  {"transform": [{"aggregate": [{"op": "mean", "field": "rank", "as": "rs"}], "groupby": ["st"]}], "mark": {"type": "text", "dy": 34, "baseline": "middle", "fontSize": 18}, "encoding": {"x": {"field": "rs"}, "y": {"datum": 0, "type": "quantitative", "scale": {"domain": [0, 60]}, "axis": null}, "text": {"field": "st"}}}
 ]}
]
}
],
"config": {
 "view": {"stroke": null},
 "text": {"font": "Liberation Sans", "fontWeight": "bold", "fontSize": 12, "color": "black"},
 "axis": {"domainColor": "black", "domainWidth": 3, "tickColor": "black", "tickWidth": 3, "labelFont": "Liberation Sans", "labelFontSize": 20, "labelFontWeight": "bold", "labelColor": "black", "grid": false, "titleFont": "Liberation Sans", "titleFontWeight": "bold", "titleColor": "black"}
}
}
